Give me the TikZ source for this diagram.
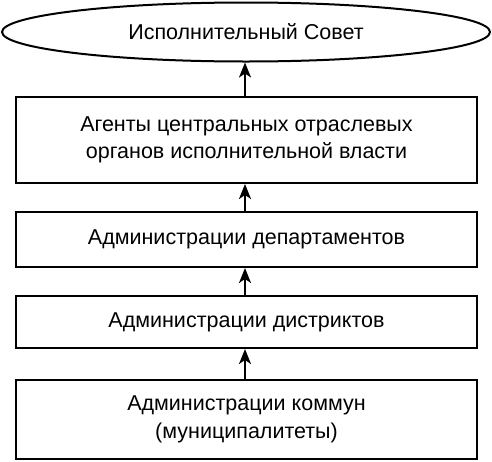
\documentclass[tikz,border=0pt]{standalone}
\usepackage{fontspec}
\setmainfont{Liberation Sans}
\usetikzlibrary{shapes.geometric,arrows.meta}
\begin{document}
\begin{tikzpicture}[x=1pt,y=-1pt,
  lvl/.style={draw, line width=2pt, minimum width=461pt, inner sep=0pt, align=center,
     font=\fontsize{21.5}{27.5}\selectfont},
  conn/.style={line width=2pt, -{Stealth[length=15pt,width=12pt,inset=4pt]}}]
\useasboundingbox (0,0) rectangle (492,461);
\node[draw, ellipse, line width=2pt, minimum width=488pt, minimum height=59pt, inner sep=0pt,
  font=\fontsize{21.5}{27.5}\selectfont] (top) at (246,32) {Исполнительный Совет};
\node[lvl, minimum height=86pt] (b1) at (246.5,140) {Агенты центральных отраслевых\\органов исполнительной власти};
\node[lvl, minimum height=55pt] (b2) at (246.5,239.5) {Администрации департаментов};
\node[lvl, minimum height=52pt] (b3) at (246.5,322) {Администрации дистриктов};
\node[lvl, minimum height=79pt] (b4) at (246.5,419.5) {Администрации коммун\\(муниципалитеты)};
\draw[conn] (b1.north -| 245,0) -- (top.south -| 245,0);
\draw[conn] (b2.north -| 245,0) -- (b1.south -| 245,0);
\draw[conn] (b3.north -| 245,0) -- (b2.south -| 245,0);
\draw[conn] (b4.north -| 245,0) -- (b3.south -| 245,0);
\end{tikzpicture}
\end{document}
